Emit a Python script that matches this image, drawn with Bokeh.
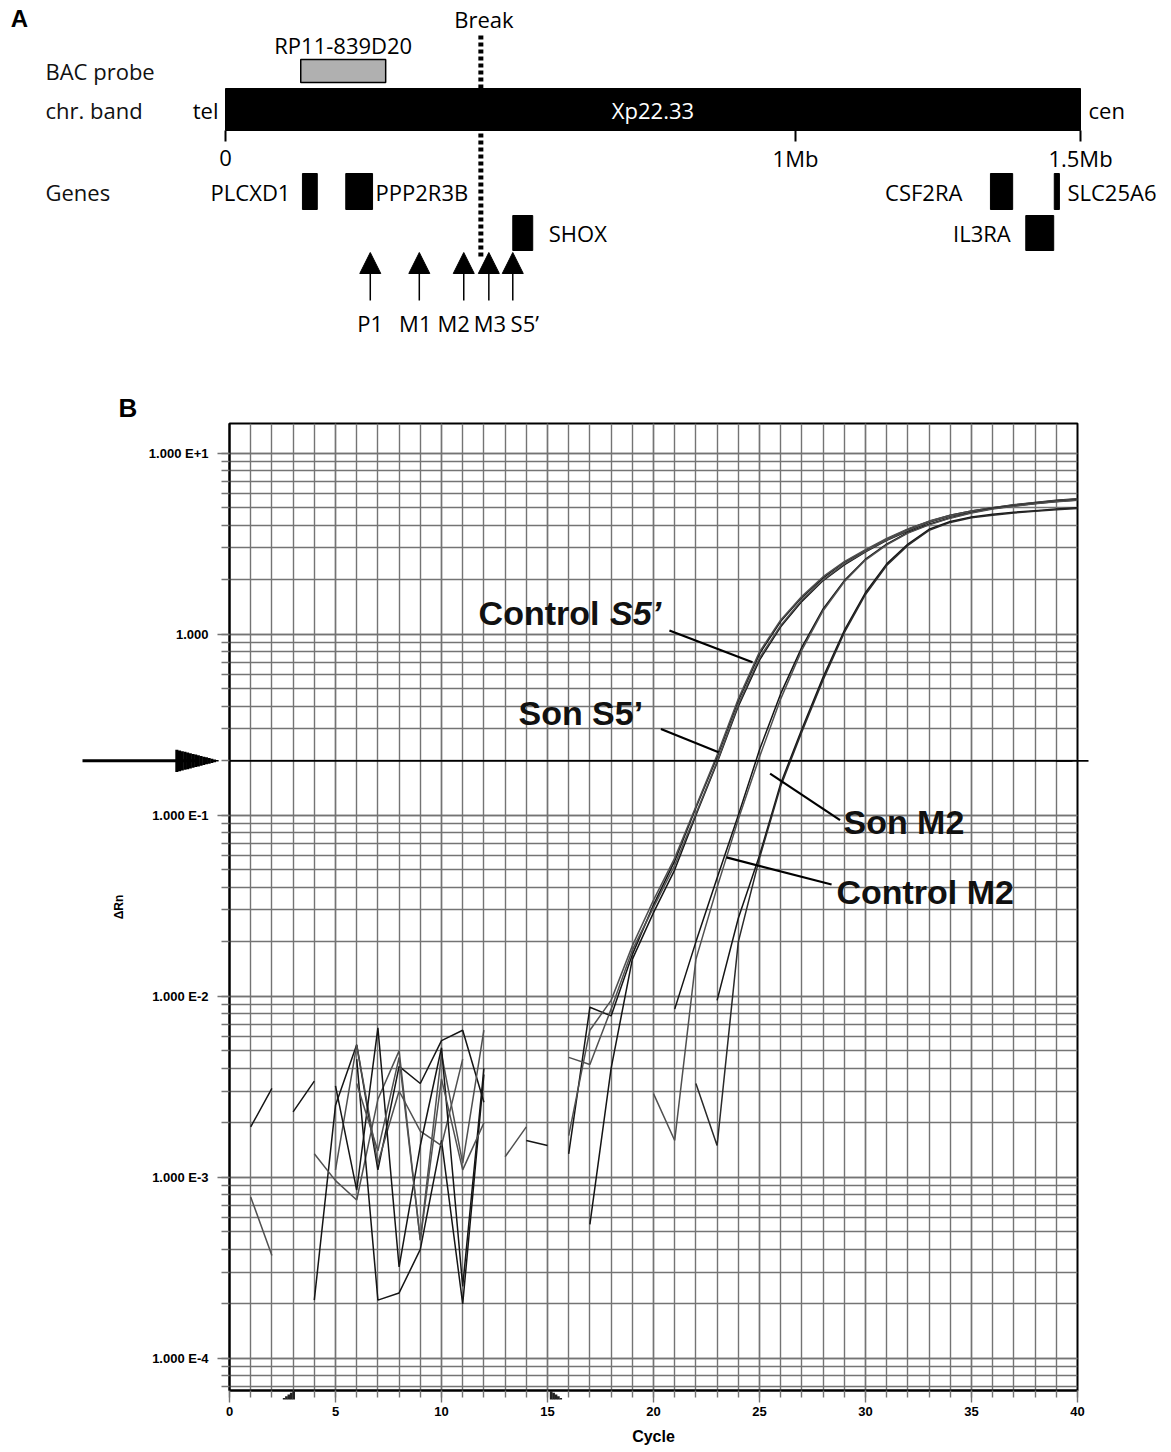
import math
from bokeh.plotting import figure
from bokeh.models import (Range1d, FixedTicker, CustomJSTickFormatter, Span, Arrow,
                          NormalHead, Title)
from bokeh.core.properties import value
from bokeh.embed import file_html
from bokeh.resources import INLINE

nan = float("nan")

# ---------------- Panel A data (positions in Mb) ----------------
chrom_start, chrom_end = 0.0, 1.5
chrom_band = "Xp22.33"
scale_ticks = [0.0, 1.0, 1.5]
scale_labels = ["0", "1Mb", "1.5Mb"]
bac_name = "RP11-839D20"
bac_start, bac_end = 0.132, 0.281
break_pos = 0.448
gene_names = ["PLCXD1", "PPP2R3B", "CSF2RA", "SLC25A6", "SHOX", "IL3RA"]
gene_starts = [0.135, 0.211, 1.342, 1.454, 0.504, 1.404]
gene_ends = [0.161, 0.258, 1.381, 1.463, 0.539, 1.453]
gene_rows = [1, 1, 1, 1, 2, 2]
marker_names = ["P1", "M1", "M2", "M3", "S5\u2019"]
marker_pos = [0.254, 0.340, 0.418, 0.462, 0.504]

# ---------------- Panel B data (delta Rn per cycle) ----------------
cycles = list(range(1, 41))
threshold = 0.2
baseline_start, baseline_end = 2.8, 15.4
control_s5_a = [0.0019, 0.0031, nan, 0.00021, 0.0025, 0.0054, 0.0011, 0.0041, 0.0033, 0.0057,
                0.0065, 0.0026, nan, nan, nan, 0.00135, 0.0087, 0.0078, 0.017, 0.032,
                0.056, 0.11, 0.21, 0.43, 0.78, 1.18, 1.6, 2.05, 2.5, 2.9,
                3.35, 3.8, 4.2, 4.55, 4.8, 5.0, 5.2, 5.35, 5.5, 5.6]
control_s5_b = [0.00078, 0.00037, nan, 0.00135, 0.00096, 0.00075, 0.0027, 0.0050, 0.00045, 0.0048,
                0.0012, 0.0065, nan, nan, nan, 0.0017, 0.0065, 0.0095, 0.019, 0.034,
                0.058, 0.112, 0.215, 0.44, 0.80, 1.2, 1.62, 2.08, 2.52, 2.93,
                3.38, 3.82, 4.22, 4.55, 4.8, 5.0, 5.18, 5.33, 5.47, 5.58]
son_s5_a = [nan, nan, 0.0023, 0.0034, nan, 0.0045, 0.00021, 0.00023, 0.0004, 0.0016,
            0.0002, 0.0037, nan, nan, nan, nan, 0.00055, 0.0040, 0.016, 0.029,
            0.050, 0.10, 0.195, 0.40, 0.72, 1.1, 1.52, 1.98, 2.42, 2.85,
            3.3, 3.72, 4.15, 4.5, 4.75, 4.95, 5.15, 5.3, 5.45, 5.55]
son_s5_b = [nan, nan, nan, nan, 0.0011, 0.0054, 0.0012, 0.0030, 0.0018, 0.0015,
            0.0045, nan, 0.0013, 0.0019, nan, 0.0046, 0.0042, 0.0085, 0.018, 0.031,
            0.053, 0.102, 0.198, 0.41, 0.74, 1.12, 1.55, 2.0, 2.45, 2.87,
            3.32, 3.75, 4.18, 4.52, 4.77, 4.97, 5.17, 5.32, 5.47, 5.57]
control_m2_a = [nan, nan, nan, nan, 0.0032, 0.00085, 0.0067, 0.00032, 0.0015, 0.0052,
                0.00025, 0.0040, nan, 0.0016, 0.0015, nan, nan, nan, nan, nan,
                0.0085, 0.02, 0.045, 0.1, 0.23, 0.47, 0.85, 1.38, 1.98, 2.6,
                3.15, 3.65, 4.05, 4.4, 4.7, 4.95, 5.12, 5.28, 5.42, 5.52]
control_m2_b = [nan, nan, nan, nan, nan, 0.0033, 0.0014, 0.0046, 0.00045, 0.0035,
                0.0011, 0.0020, nan, nan, nan, nan, nan, nan, nan, 0.0029,
                0.0016, 0.016, 0.04, 0.095, 0.21, 0.44, 0.82, 1.35, 1.95, 2.57,
                3.12, 3.62, 4.02, 4.38, 4.68, 4.92, 5.1, 5.26, 5.4, 5.5]
son_m2_a = [nan, nan, nan, nan, nan, nan, nan, nan, nan, nan,
            nan, nan, nan, nan, nan, nan, nan, nan, nan, nan,
            nan, nan, 0.0095, 0.027, 0.06, 0.15, 0.3, 0.58, 1.05, 1.7,
            2.45, 3.15, 3.8, 4.2, 4.45, 4.6, 4.72, 4.82, 4.92, 5.0]
son_m2_b = [nan, nan, nan, nan, nan, nan, nan, nan, nan, nan,
            nan, nan, nan, nan, nan, nan, nan, nan, nan, nan,
            nan, 0.0033, 0.0015, 0.02, 0.058, 0.145, 0.29, 0.56, 1.02, 1.66,
            2.4, 3.1, 3.75, 4.15, 4.4, 4.55, 4.68, 4.78, 4.88, 4.95]

x_major = [0, 5, 10, 15, 20, 25, 30, 35, 40]
y_major = [1e-4, 1e-3, 1e-2, 1e-1, 1.0, 10.0]

# ---------------- Panel A ----------------
FA = value("Open Sans")
FS = "22px"
W = 1165
pA = figure(width=W, height=388, x_range=Range1d((0 - 225) / 570.0, (W - 225) / 570.0),
            y_range=Range1d(388, 0), output_backend="svg", toolbar_location=None,
            x_axis_location=None, y_axis_location=None, min_border=0)
pA.grid.visible = False
pA.outline_line_color = None


def mb(px):
    return (px - 225) / 570.0


pA.text(x=[mb(19)], y=[18], text=["A"], text_font=value("Liberation Sans"),
        text_font_style="bold", text_font_size="24px", text_align="center",
        text_baseline="middle", text_color="black")
pA.text(x=[mb(45)] * 3, y=[70, 109, 191], text=["BAC probe", "chr. band", "Genes"],
        text_font=FA, text_font_size=FS, text_baseline="middle", text_color="#111")

pA.quad(left=[chrom_start], right=[chrom_end], top=[88], bottom=[130],
        fill_color="black", line_color="black")
pA.text(x=[(chrom_start + chrom_end) / 2], y=[109], text=[chrom_band], text_font=FA,
        text_font_size=FS, text_align="center", text_baseline="middle",
        text_color="white")
pA.text(x=[chrom_start], y=[109], text=["tel"], x_offset=-7, text_font=FA,
        text_font_size=FS, text_align="right", text_baseline="middle")
pA.text(x=[chrom_end], y=[109], text=["cen"], x_offset=8, text_font=FA,
        text_font_size=FS, text_align="left", text_baseline="middle")
pA.segment(x0=scale_ticks, x1=scale_ticks, y0=[130] * 3, y1=[141] * 3,
           line_color="black", line_width=2)
pA.text(x=scale_ticks, y=[157] * 3, text=scale_labels, text_font=FA,
        text_font_size=FS, text_align="center", text_baseline="middle")

pA.quad(left=[bac_start], right=[bac_end], top=[59], bottom=[82],
        fill_color="#b0b0b0", line_color="black", line_width=1.5)
pA.text(x=[(bac_start + bac_end) / 2], y=[44], text=[bac_name], text_font=FA,
        text_font_size=FS, text_align="center", text_baseline="middle")

pA.segment(x0=[break_pos], x1=[break_pos], y0=[35], y1=[258], line_color="black",
           line_width=5, line_dash="4 3")
pA.text(x=[break_pos], y=[18], text=["Break"], x_offset=3, text_font=FA,
        text_font_size=FS, text_align="center", text_baseline="middle")

row_top = {1: 173, 2: 215}
row_bot = {1: 209, 2: 250}
pA.quad(left=gene_starts, right=gene_ends, top=[row_top[r] for r in gene_rows],
        bottom=[row_bot[r] for r in gene_rows], fill_color="black", line_color="black")
label_offsets = [-12, 3, -28, 8, 16, -15]
for name, s, e, r, off in zip(gene_names, gene_starts, gene_ends, gene_rows, label_offsets):
    yc = (row_top[r] + row_bot[r]) / 2
    if off < 0:
        pA.text(x=[s], y=[yc], text=[name], x_offset=off, text_font=FA,
                text_font_size=FS, text_align="right", text_baseline="middle")
    else:
        pA.text(x=[e], y=[yc], text=[name], x_offset=off, text_font=FA,
                text_font_size=FS, text_align="left", text_baseline="middle")

for m in marker_pos:
    pA.add_layout(Arrow(x_start=m, y_start=300, x_end=m, y_end=252, line_width=1.5,
                        line_color="black",
                        end=NormalHead(size=21, fill_color="black", line_color="black")))
marker_label_shift = [0, -4, -10, 1, 12]
for name, m, dx in zip(marker_names, marker_pos, marker_label_shift):
    pA.text(x=[m], y=[322], text=[name], x_offset=dx, text_font=FA,
            text_font_size=FS, text_align="center", text_baseline="middle")

# ---------------- Panel B ----------------
FB = value("Liberation Sans")
Y_LO, Y_HI = 6.65e-5, 14.6
FRAME_L, FRAME_R, FRAME_T, FRAME_B = 229, 1077, 423, 1390
pB = figure(width=W, height=1060, x_range=Range1d(0, 40),
            y_range=Range1d(Y_LO, Y_HI), y_axis_type="log",
            output_backend="svg", toolbar_location=None,
            min_border_left=FRAME_L, min_border_right=W - FRAME_R, min_border_top=35,
            min_border_bottom=58)
pB.title = Title(text="B", align="left", offset=-111, standoff=1,
                 text_font="Liberation Sans", text_font_style="bold",
                 text_font_size="26px", text_color="black")

grid_col = "#747474"
xt = FixedTicker(ticks=x_major, minor_ticks=list(range(0, 41)))
ymin = [m * 10.0 ** e for e in range(-5, 2) for m in range(1, 10)]
yt = FixedTicker(ticks=y_major, minor_ticks=ymin)
pB.xaxis.ticker = xt
pB.yaxis.ticker = yt
pB.xgrid.ticker = xt
pB.ygrid.ticker = yt
for g in (pB.xgrid, pB.ygrid):
    g.grid_line_color = grid_col
    g.grid_line_width = 1.4
    g.minor_grid_line_color = grid_col
    g.minor_grid_line_width = 1.4
pB.outline_line_color = "black"
pB.outline_line_width = 2

for ax in (pB.xaxis, pB.yaxis):
    ax.axis_line_width = 2
    ax.axis_line_color = "black"
    ax.major_tick_out = 12
    ax.major_tick_in = 0
    ax.minor_tick_in = 0
    ax.major_tick_line_color = grid_col
    ax.minor_tick_line_color = grid_col
    ax.major_tick_line_width = 1.4
    ax.minor_tick_line_width = 1.4
    ax.major_label_text_font = "Liberation Sans"
    ax.major_label_text_font_style = "bold"
    ax.major_label_text_font_size = "13px"
    ax.major_label_text_color = "black"
    ax.axis_label_text_font = "Liberation Sans"
    ax.axis_label_text_font_style = "bold"
    ax.axis_label_text_color = "black"

pB.xaxis.minor_tick_out = 7
pB.xaxis.major_label_standoff = 4
pB.xaxis.axis_label = "Cycle"
pB.xaxis.axis_label_text_font_size = "16px"
pB.xaxis.axis_label_standoff = 9

pB.yaxis.minor_tick_out = 8
pB.yaxis.formatter = CustomJSTickFormatter(code="""
const e = Math.round(Math.log10(tick));
if (e == 0) { return "1.000"; }
return "1.000 E" + (e > 0 ? "+" : "") + e;
""")
pB.yaxis.major_label_standoff = 9
pB.yaxis.axis_label = "\u0394Rn"
pB.yaxis.axis_label_text_font_size = "12px"
pB.yaxis.axis_label_standoff = 20

pB.add_layout(Span(location=threshold, dimension="width", line_color="black",
                   line_width=1.8))

# helpers to place decorations outside the frame (page pixels -> data)
PX_PER_CYCLE = (FRAME_R - FRAME_L) / 40.0
PX_PER_DEC = (FRAME_B - FRAME_T) / (math.log10(Y_HI) - math.log10(Y_LO))


def x_at(px):
    return (px - FRAME_L) / PX_PER_CYCLE


def y_at(py):
    return 10 ** (math.log10(Y_LO) + (FRAME_B - py) / PX_PER_DEC)


def px_of(x):
    return FRAME_L + x * PX_PER_CYCLE


def py_of(y):
    return FRAME_B - (math.log10(y) - math.log10(Y_LO)) * PX_PER_DEC


def hidden_head(size):
    return NormalHead(size=size, fill_alpha=0, line_alpha=0)


def vbar_px(xc, top, bottom, width, color="black"):
    pB.add_layout(Arrow(x_start=x_at(xc), y_start=y_at(top), x_end=x_at(xc),
                        y_end=y_at(bottom), line_color=color, line_width=width,
                        end=hidden_head(max(bottom - top, 0.5) + 2)))


ty = py_of(threshold)
tip_px, head_len, head_half = FRAME_L - 11, 43, 11
pB.add_layout(Arrow(x_start=x_at(82), y_start=threshold, x_end=x_at(tip_px - 20),
                    y_end=threshold, line_color="black", line_width=3,
                    end=hidden_head(150)))
n = 16
step = head_len / n
for k in range(n):
    xc = tip_px - head_len + (k + 0.5) * step
    hh = head_half * (tip_px - xc) / head_len + 0.4
    vbar_px(xc, ty - hh, ty + hh, step + 0.4)
pB.add_layout(Arrow(x_start=39.0, y_start=threshold, x_end=x_at(FRAME_R + 11),
                    y_end=threshold, line_color="black", line_width=1.8,
                    end=hidden_head(16)))
for bx, rising in ((baseline_start, True), (baseline_end, False)):
    c = px_of(bx)
    m = 5
    for k in range(m):
        xc = c - 6 + (k + 0.5) * 12 / m
        frac = (k + 0.5) / m if rising else (m - k - 0.5) / m
        h = 9 * frac + 0.5
        vbar_px(xc, FRAME_B + 9 - h, FRAME_B + 9, 12 / m + 0.3, "#222222")

traces = [(control_s5_a, "#151515"), (control_s5_b, "#505050"),
          (son_s5_a, "#151515"), (son_s5_b, "#505050"),
          (control_m2_a, "#151515"), (control_m2_b, "#505050"),
          (son_m2_a, "#151515"), (son_m2_b, "#2a2a2a")]
for ys, col in traces:
    pB.line(x=cycles, y=ys, line_color=col, line_width=1.5)

ann_text = ["Control", "Son S5\u2019", "Son M2", "Control M2"]
ann_x = [11.75, 13.63, 28.96, 28.63]
ann_y = [1.306, 0.366, 0.0915, 0.0376]
pB.text(x=ann_x, y=ann_y, text=ann_text, text_font=FB, text_font_style="bold",
        text_font_size="34px", text_baseline="middle", text_color="#111")
pB.text(x=[17.95], y=[1.306], text=["S5\u2019"], text_font=FB,
        text_font_style="bold italic", text_font_size="34px", text_baseline="middle",
        text_color="#111")
ptr_x0 = [20.75, 20.35, 28.8, 28.4]
ptr_y0 = [1.05, 0.30, 0.094, 0.0415]
ptr_x1 = [24.67, 23.07, 25.5, 23.44]
ptr_y1 = [0.70, 0.223, 0.17, 0.0586]
pB.segment(x0=ptr_x0, y0=ptr_y0, x1=ptr_x1, y1=ptr_y1, line_color="black", line_width=2.2)

open("out.html", "w").write(file_html([pA, pB], INLINE))
